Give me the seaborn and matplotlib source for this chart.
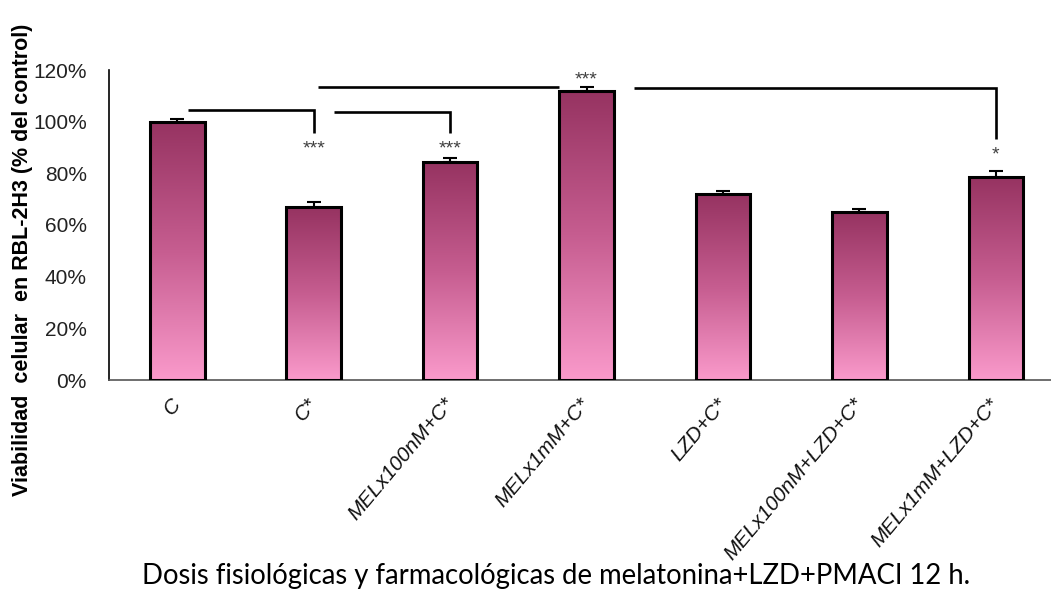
import numpy as np
import pandas as pd
import matplotlib
matplotlib.use("Agg")
import matplotlib.pyplot as plt
from matplotlib.colors import LinearSegmentedColormap
import seaborn as sns

# Cell viability data (% of control), mean and SEM
categories = ["C", "C*", "MELx100nM+C*", "MELx1mM+C*", "LZD+C*",
              "MELx100nM+LZD+C*", "MELx1mM+LZD+C*"]
viability = [100.0, 66.9, 84.3, 111.9, 71.9, 64.9, 78.6]
sem = [1.0, 1.9, 1.8, 1.6, 1.2, 1.3, 2.3]
y_ticks = [0, 20, 40, 60, 80, 100, 120]

# Significance brackets: (x_start, x_end, y_level, drop_to) in data units
brackets = [
    (0.08, 1.0, 104.5, 95.6),
    (1.15, 2.0, 103.9, 95.6),
    (1.03, 2.8, 113.4, None),
    (3.35, 6.0, 112.9, 93.3),
]
# Significance marks: (x, y, label)
marks = [(1, 89.6, "***"), (2, 89.6, "***"), (3, 116.2, "***"), (6, 87.2, "*")]

df = pd.DataFrame({"grupo": categories, "viabilidad": viability})

sns.set_theme(style="white")
plt.rcParams["font.family"] = ["Liberation Sans", "DejaVu Sans"]

fig = plt.figure(figsize=(10.51, 5.90), dpi=100)
ax = fig.add_axes([109 / 1051, 210 / 590, 955 / 1051, 310 / 590])

sns.barplot(data=df, x="grupo", y="viabilidad", ax=ax, width=0.4,
            color="#cc6699", edgecolor="black", linewidth=2.2,
            errorbar=None, zorder=3)

# vertical gradient fill inside each bar: dark plum at top, pink at bottom
cmap = LinearSegmentedColormap.from_list("plum", ["#fa9acb", "#c65d90", "#963361"])
grad = np.linspace(0, 1, 256).reshape(-1, 1)
for patch in ax.patches:
    x0, y0 = patch.get_x(), patch.get_y()
    w, h = patch.get_width(), patch.get_height()
    patch.set_facecolor("none")
    im = ax.imshow(grad, cmap=cmap, aspect="auto", origin="lower",
                   extent=[x0, x0 + w, y0, y0 + h], zorder=2.5,
                   interpolation="bicubic")
    im.set_clip_path(patch)

xs = np.arange(len(categories))
ax.errorbar(xs, viability, yerr=[np.zeros(len(sem)), sem], fmt="none",
            ecolor="black", elinewidth=1.5, capsize=5, capthick=1.5, zorder=4)

for x0, x1, yl, yd in brackets:
    if yd is None:
        ax.plot([x0, x1], [yl, yl], color="black", lw=1.9, zorder=5,
                solid_capstyle="butt")
    else:
        ax.plot([x0, x1, x1], [yl, yl, yd], color="black", lw=1.9, zorder=5,
                solid_joinstyle="miter", solid_capstyle="butt")

for x, y, s in marks:
    ax.text(x, y, s, ha="center", va="center", fontsize=14, color="#404040")

ax.set_xlim(-0.5, 6.5)
ax.set_ylim(0, 120)
ax.set_yticks(y_ticks)
ax.set_yticklabels([f"{v}%" for v in y_ticks], fontsize=15, color="#222222")
ax.set_xticks(xs)
ax.set_xticklabels(categories, rotation=50, ha="right", va="center",
                   rotation_mode="anchor", fontsize=15, fontstyle="italic",
                   color="#111111")
ax.tick_params(axis="both", length=0)
ax.tick_params(axis="y", pad=16)
ax.tick_params(axis="x", pad=15)
ax.set_xlabel("")
ax.set_ylabel("")
for side in ["top", "right"]:
    ax.spines[side].set_visible(False)
ax.spines["left"].set_color("black")
ax.spines["left"].set_linewidth(1.2)
ax.spines["bottom"].set_color("#555555")
ax.spines["bottom"].set_linewidth(1.2)

fig.text(23 / 1051, 1 - 260 / 590,
         "Viabilidad  celular  en RBL-2H3 (% del control)",
         rotation=90, ha="center", va="center", fontsize=15.5,
         fontweight="bold", color="black")
fig.text(556 / 1051, 1 - 576 / 590,
         "Dosis fisiológicas y farmacológicas de melatonina+LZD+PMACI 12 h.",
         ha="center", va="center", fontsize=19.8, family=["Lato", "DejaVu Sans"],
         color="black")

fig.savefig("out.png", dpi=100, facecolor="white")
